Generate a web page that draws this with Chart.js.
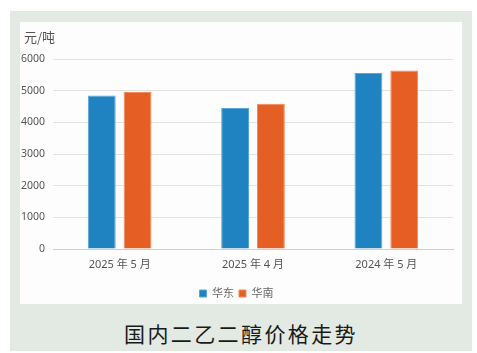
<!DOCTYPE html>
<html>
<head>
<meta charset="utf-8">
<script src="https://cdn.jsdelivr.net/npm/chart.js@4"></script>
<style>
body{margin:0;background:#fff;width:477px;height:353px;overflow:hidden;font-family:"Noto Sans","Noto Sans CJK SC",sans-serif}
#panel{position:absolute;left:10px;top:11px;width:462px;height:340px;background:#e3eae3}
#box{position:absolute;left:10px;top:11px;width:442px;height:282px;background:#fdfdfd}
#c{position:absolute;left:0;top:0}
#title{position:absolute;left:0;top:304px;width:462px;height:36px;line-height:36px;text-align:center;font-family:"Noto Sans CJK SC",sans-serif;font-size:21px;letter-spacing:2.4px;color:#1a1a1a}
</style>
</head>
<body>
<div id="panel">
<div id="box"><canvas id="c" width="442" height="287"></canvas></div>
<div id="title">国内二乙二醇价格走势</div>
</div>
<script>
const labels = ["2025 年 5 月","2025 年 4 月","2024 年 5 月"];
const eastData = [4850,4450,5560];
const southData = [4960,4590,5640];
const yTicks = [0,1000,2000,3000,4000,5000,6000];

const font = {family:'"Noto Sans","Noto Sans CJK SC",sans-serif', size:11};

const unitLabel = {
id:"unitLabel",
afterDraw(chart){
const ctx = chart.ctx;
ctx.save();
ctx.fillStyle = "#555";
ctx.font = '13px "Noto Sans CJK SC",sans-serif';
ctx.textBaseline = "middle";
ctx.fillText("元/吨", 4, 15);
ctx.restore();
}
};

new Chart(document.getElementById("c"),{
type:"bar",
data:{
labels:labels,
datasets:[{
label:"华东",
data:eastData,
backgroundColor:"#1f83c1",
borderColor:"#5aa6d6",
borderWidth:1
},{
label:"华南",
data:southData,
backgroundColor:"#e55f25",
borderColor:"#f08a5a",
borderWidth:1
}]
},
options:{
responsive:false,
animation:false,
categoryPercentage:0.537,
barPercentage:0.778,
layout:{padding:{top:37,right:9,left:0,bottom:0}},
plugins:{
legend:{
position:"bottom",
labels:{boxWidth:7,boxHeight:7,padding:5,color:"#666",font:font}
},
tooltip:{enabled:false}
},
scales:{
x:{
grid:{display:false},
border:{color:"#d0d0d0"},
ticks:{color:"#555",font:font,padding:1},
afterFit(scale){scale.height = 34;}
},
y:{
min:0,max:6000,
afterBuildTicks(scale){scale.ticks = yTicks.map(v => ({value:v}));},
grid:{color:"#e2e2e2",drawTicks:false},
border:{display:false},
ticks:{color:"#555",font:{family:font.family,size:10.5},padding:8,callback:v => String(v)},
afterFit(scale){scale.width = 33;}
}
}
},
plugins:[unitLabel]
});
</script>
</body>
</html>
